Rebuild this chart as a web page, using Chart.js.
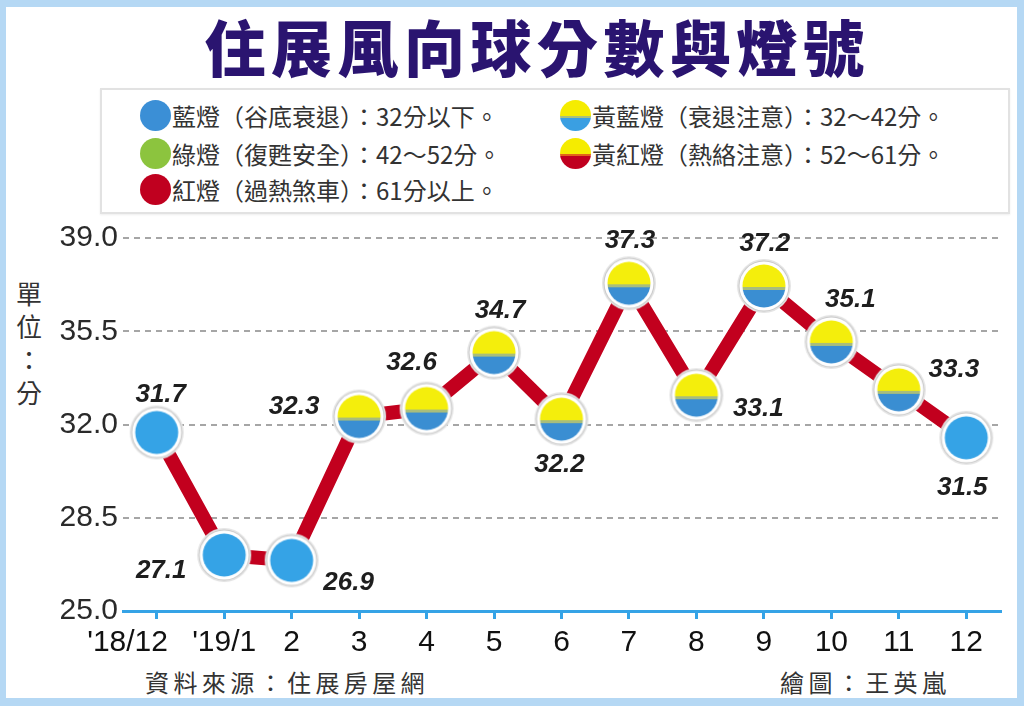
<!DOCTYPE html>
<html>
<head>
<meta charset="utf-8">
<script src="https://cdn.jsdelivr.net/npm/chart.js@4.4.1/dist/chart.umd.min.js"></script>
<style>
  body { margin: 0; overflow: hidden; }
  #frame { position: absolute; left: 0; top: 0; width: 1024px; height: 706px; background: #b5d8f4; }
  #paper { position: absolute; left: 6px; top: 7px; width: 1011px; height: 691px; background: #fff; }
  #title { position: absolute; left: 0; top: 8px; width: 1074px; text-align: center;
           font-family: "Noto Sans CJK TC"; font-weight: 900; font-size: 61px; letter-spacing: 5.5px;
           color: #2a1470; line-height: 76px; }
  #legend { position: absolute; left: 100px; top: 88px; width: 906px; height: 122px;
            border: 2px solid #e2e2e2; background: #fff; box-shadow: 0 1px 2px #eee; }
  .item { position: absolute; font-family: "Noto Sans CJK TC"; font-size: 24px; color: #333;
          line-height: 30px; white-space: nowrap; }
  .dot { position: absolute; width: 31px; height: 31px; border-radius: 50%; }
  #ytitle { position: absolute; left: 14px; top: 276px; width: 30px; text-align: center;
            font-family: "Noto Sans CJK TC"; font-size: 26px; line-height: 33px; color: #333; }
  .foot { position: absolute; top: 666px; font-family: "Noto Sans CJK TC"; font-size: 24px;
          letter-spacing: 4.4px; color: #333; line-height: 32px; white-space: nowrap; }
  #wrap { position: absolute; left: 0; top: 196px; width: 1042px; height: 474px; }
</style>
</head>
<body>
<div id="frame"></div>
<div id="paper"></div>
<div id="title">住展風向球分數與燈號</div>
<div id="legend">
  <div class="dot" style="left:38px;top:10px;background:#3b8fd6"></div>
  <div class="item" style="left:70px;top:11px">藍燈（谷底衰退）：32分以下。</div>
  <div class="dot" style="left:458px;top:10px;background:linear-gradient(#f5ec00 0 52%,#a9c07a 52% 58%,#3a9fe2 58%)"></div>
  <div class="item" style="left:490px;top:11px">黃藍燈（衰退注意）：32～42分。</div>
  <div class="dot" style="left:38px;top:48px;background:#8cc43e"></div>
  <div class="item" style="left:70px;top:49px">綠燈（復甦安全）：42～52分。</div>
  <div class="dot" style="left:458px;top:48px;background:linear-gradient(#f5ec00 0 50%,#e2631a 50% 58%,#c0001f 58%)"></div>
  <div class="item" style="left:490px;top:49px">黃紅燈（熱絡注意）：52～61分。</div>
  <div class="dot" style="left:38px;top:84px;background:#c0001f"></div>
  <div class="item" style="left:70px;top:85px">紅燈（過熱煞車）：61分以上。</div>
</div>
<div id="ytitle">單<br>位<br>：<br>分</div>
<div class="foot" style="left:145px">資料來源：住展房屋網</div>
<div class="foot" style="left:780px">繪圖：王英嵐</div>
<div id="wrap"><canvas id="myChart" width="1042" height="474"></canvas></div>

<script>
// chart data
const months = ["'18/12", "'19/1", "2", "3", "4", "5", "6", "7", "8", "9", "10", "11", "12"];
const scores = [31.7, 27.1, 26.9, 32.3, 32.6, 34.7, 32.2, 37.3, 33.1, 37.2, 35.1, 33.3, 31.5];
const yTicks = [25.0, 28.5, 32.0, 35.5, 39.0];
const blueLimit = 32;

// where each value label sits relative to its point
const labelOffsets = [
  [4, -38], [-63, 16], [57, 22], [-65, -10], [-15, -46], [6, -42], [-2, 46],
  [1, -42], [62, 14], [1, -42], [19, -42], [55, -20], [-4, 50]
];

function makeLight(kind) {
  const c = document.createElement("canvas");
  c.width = 56; c.height = 56;
  const g = c.getContext("2d");
  g.beginPath(); g.arc(28, 28, 27, 0, Math.PI * 2); g.fillStyle = "#e4e4e4"; g.fill();
  g.beginPath(); g.arc(28, 28, 25.5, 0, Math.PI * 2); g.fillStyle = "#c9c9c9"; g.fill();
  g.beginPath(); g.arc(28, 28, 24.5, 0, Math.PI * 2); g.fillStyle = "#ffffff"; g.fill();
  g.save();
  g.beginPath(); g.arc(28, 28, 21.5, 0, Math.PI * 2); g.clip();
  if (kind === "blue") {
    g.fillStyle = "#35a3e6"; g.fillRect(0, 0, 56, 56);
  } else {
    g.fillStyle = "#f4ee0c"; g.fillRect(0, 0, 56, 29);
    g.fillStyle = "#a8bd7c"; g.fillRect(0, 29, 56, 3);
    g.fillStyle = "#3a8ed2"; g.fillRect(0, 32, 56, 30);
  }
  g.restore();
  return c;
}
const blueLight = makeLight("blue");
const yellowBlueLight = makeLight("yellowBlue");

const valueLabels = {
  id: "valueLabels",
  afterDatasetsDraw(chart) {
    const ctx = chart.ctx;
    const meta = chart.getDatasetMeta(0);
    ctx.save();
    ctx.font = "italic bold 26px 'Liberation Sans', Arial, sans-serif";
    ctx.fillStyle = "#1e1e1e";
    ctx.textAlign = "center";
    ctx.textBaseline = "middle";
    meta.data.forEach((pt, i) => {
      const o = labelOffsets[i];
      ctx.fillText(scores[i].toFixed(1), pt.x + o[0], pt.y + o[1]);
    });
    ctx.restore();
  }
};

const myChartRef = document.getElementById("myChart").getContext("2d");
new Chart(myChartRef, {
  type: "line",
  data: {
    labels: months,
    datasets: [{
      data: scores,
      borderColor: "#c2001e",
      borderWidth: 14,
      tension: 0,
      clip: false,
      pointStyle: scores.map(v => v < blueLimit ? blueLight : yellowBlueLight),
      pointRadius: 28,
      pointHoverRadius: 28
    }]
  },
  options: {
    responsive: false,
    animation: false,
    events: [],
    layout: { padding: { top: 32, right: 3, left: 0, bottom: 0 } },
    plugins: { legend: { display: false }, tooltip: { enabled: false } },
    scales: {
      x: {
        offset: true,
        afterFit(scale) { scale.height = 59; },
        grid: { drawOnChartArea: false, drawTicks: true, tickLength: 8, color: "#35a3e6", lineWidth: 3 },
        border: { display: true, color: "#35a3e6", width: 3 },
        ticks: {
          padding: 6, color: "#111", font: { family: "'Liberation Sans', Arial", size: 30 },
          maxRotation: 0, autoSkip: false,
          // first label sits left of its tick in the original
          callback(v, i) { const t = this.getLabelForValue(v); return i === 0 ? t + "       " : t; }
        }
      },
      y: {
        min: yTicks[0],
        max: yTicks[yTicks.length - 1],
        afterFit(scale) { scale.width = 123; },
        afterBuildTicks(scale) { scale.ticks = yTicks.map(v => ({ value: v })); },
        grid: { drawTicks: false, color: "#a6a6a6", lineWidth: 2 },
        border: { display: false, dash: [6, 5] },
        ticks: {
          padding: 5,
          color: "#2a2a2a",
          font: { family: "'Liberation Sans', Arial", size: 30 },
          callback: v => Number(v).toFixed(1)
        }
      }
    }
  },
  plugins: [valueLabels]
});
</script>
</body>
</html>
